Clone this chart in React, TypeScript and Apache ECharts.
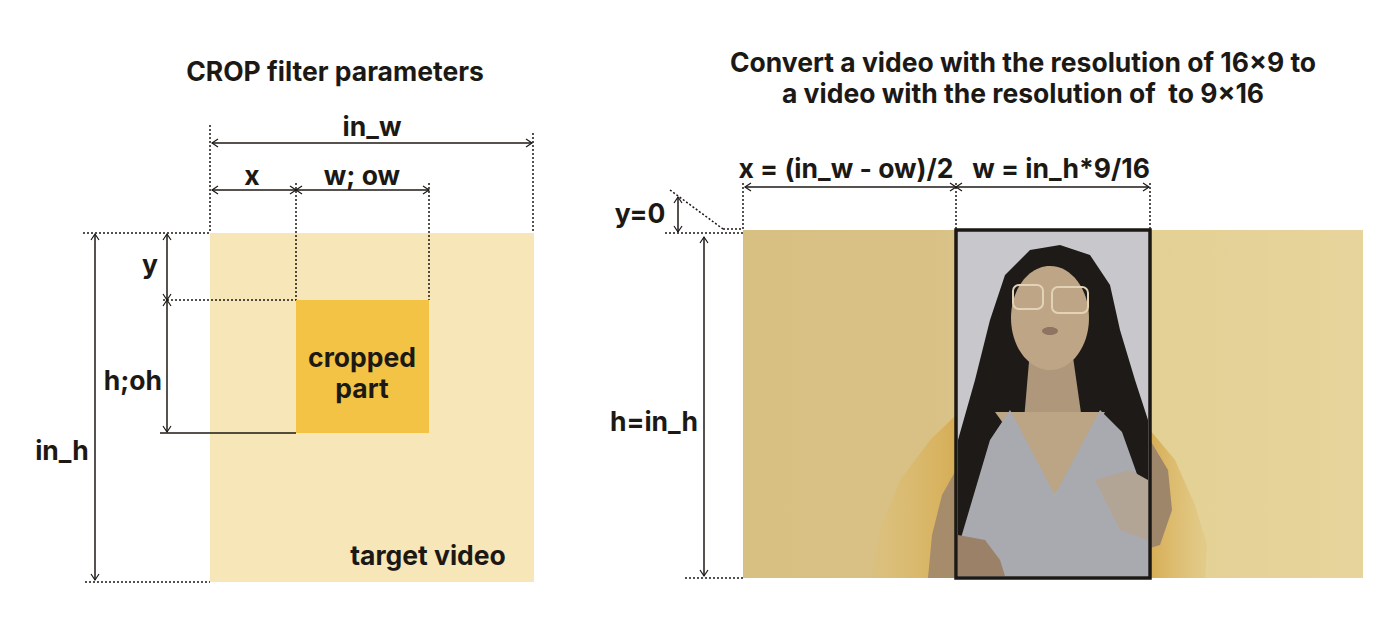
import * as echarts from "echarts";
import { useEffect, useRef } from "react";

// texts of the two diagrams
const leftTitle = "CROP filter parameters";
const leftDims = ["in_w", "x", "w; ow", "y", "h;oh", "in_h"];
const leftBoxLabels = ["cropped", "part", "target video"];
const rightTitle = [
	"Convert a video with the resolution of 16×9 to",
	"a video with the resolution of  to 9×16",
];
const rightDims = ["x = (in_w - ow)/2", "w = in_h*9/16", "y=0", "h=in_h"];

const INK = "#1c1915";
const FONT = "Inter, 'Noto Sans', sans-serif";

const label = (text: string, x: number, y: number, align = "center") => ({
	type: "text",
	x,
	y,
	style: {
		text,
		fill: INK,
		font: `700 26.5px ${FONT}`,
		textAlign: align,
		textVerticalAlign: "middle",
	},
});

const solid = (x1: number, y1: number, x2: number, y2: number) => ({
	type: "line",
	shape: { x1, y1, x2, y2 },
	style: { stroke: INK, lineWidth: 1.5 },
});

const dotted = (x1: number, y1: number, x2: number, y2: number) => ({
	type: "line",
	shape: { x1, y1, x2, y2 },
	style: { stroke: INK, lineWidth: 1.5, lineDash: [2, 2] },
});

const head = (points: number[][]) => ({
	type: "polyline",
	shape: { points },
	style: { stroke: INK, lineWidth: 1.2, fill: null },
});

// arrows with open heads at both ends
const hArrow = (x1: number, x2: number, y: number) => [
	solid(x1, y, x2, y),
	head([[x1 + 6, y - 4], [x1, y], [x1 + 6, y + 4]]),
	head([[x2 - 6, y - 4], [x2, y], [x2 - 6, y + 4]]),
];
const vArrow = (x: number, y1: number, y2: number) => [
	solid(x, y1, x, y2),
	head([[x - 4, y1 + 6], [x, y1], [x + 4, y1 + 6]]),
	head([[x - 4, y2 - 6], [x, y2], [x + 4, y2 - 6]]),
];

const poly = (points: number[][], fill: any) => ({
	type: "polygon",
	shape: { points },
	style: { fill },
});

function leftDiagram() {
	return [
		{ type: "rect", shape: { x: 210, y: 233, width: 324, height: 349 }, style: { fill: "#f7e6b8" } },
		{ type: "rect", shape: { x: 296, y: 300, width: 133, height: 133 }, style: { fill: "#f2c344" } },
		dotted(210, 125, 210, 233),
		dotted(533, 133, 533, 233),
		dotted(296, 183, 296, 300),
		dotted(429, 183, 429, 300),
		dotted(83, 233, 210, 233),
		dotted(163, 300, 296, 300),
		dotted(85, 582, 210, 582),
		solid(160, 433, 296, 433),
		...hArrow(212, 532, 143),
		...hArrow(212, 296, 190),
		...hArrow(296, 429, 190),
		...vArrow(167, 234, 300),
		...vArrow(167, 300, 432),
		...vArrow(95, 234, 580),
		label(leftTitle, 335, 71),
		label(leftDims[0], 372, 126),
		label(leftDims[1], 252, 175),
		label(leftDims[2], 362, 175),
		label(leftDims[3], 150, 264),
		label(leftDims[4], 162, 380, "right"),
		label(leftDims[5], 62, 450),
		label(leftBoxLabels[0], 362, 357),
		label(leftBoxLabels[1], 362, 388),
		label(leftBoxLabels[2], 428, 555),
	];
}

function photo() {
	const glow = (dir: number) =>
		new echarts.graphic.LinearGradient(dir, 0, 1 - dir, 0, [
			{ offset: 0, color: "rgba(222,190,110,0.3)" },
			{ offset: 1, color: "#d6ad55" },
		]);
	return [
		// the woman's arms showing outside the frame
		poly([[956, 415], [930, 440], [900, 480], [880, 530], [872, 578], [956, 578]], glow(0)),
		poly([[956, 470], [942, 495], [932, 535], [928, 578], [956, 578]], "#a68c6b"),
		poly([[1150, 430], [1175, 460], [1195, 505], [1207, 545], [1205, 578], [1150, 578]], glow(1)),
		poly([[1150, 440], [1168, 470], [1172, 510], [1160, 545], [1150, 548]], "#9e866a"),
		// inside of the frame
		{ type: "rect", shape: { x: 956, y: 230, width: 194, height: 348 }, style: { fill: "#c8c7cc" } },
		poly(
			[
				[1030, 250], [1060, 245], [1090, 255], [1110, 285], [1120, 330],
				[1135, 380], [1148, 420], [1148, 500], [1120, 505], [1100, 470],
				[1080, 420], [1020, 420], [1000, 470], [985, 520], [958, 545],
				[958, 440], [975, 380], [990, 320], [1005, 275],
			],
			"#1d1a17",
		),
		poly([[1030, 350], [1072, 350], [1082, 420], [1024, 420]], "#ae977a"),
		poly([[995, 412], [1105, 412], [1055, 495]], "#bba585"),
		{ type: "ellipse", shape: { cx: 1050, cy: 318, rx: 39, ry: 52 }, style: { fill: "#bda585" } },
		{ type: "rect", shape: { x: 1013, y: 285, width: 30, height: 24, r: 6 }, style: { fill: null, stroke: "#e2d3b8", lineWidth: 2 } },
		{ type: "rect", shape: { x: 1052, y: 287, width: 36, height: 26, r: 6 }, style: { fill: null, stroke: "#e2d3b8", lineWidth: 2 } },
		{ type: "ellipse", shape: { cx: 1050, cy: 331, rx: 8, ry: 4 }, style: { fill: "#8f7561" } },
		poly(
			[
				[958, 548], [990, 440], [1010, 410], [1055, 495], [1100, 410],
				[1122, 432], [1148, 505], [1148, 576], [958, 576],
			],
			"#a9a9b0",
		),
		poly([[958, 535], [985, 540], [1000, 560], [1005, 576], [958, 576]], "#9a8168"),
		poly([[1095, 480], [1130, 470], [1148, 480], [1148, 540], [1120, 530]], "#b3a596"),
		{
			type: "rect",
			shape: { x: 956, y: 230, width: 194, height: 348 },
			style: { fill: null, stroke: INK, lineWidth: 3.5 },
		},
	];
}

function rightDiagram() {
	return [
		{
			type: "rect",
			shape: { x: 743, y: 230, width: 620, height: 348 },
			style: {
				fill: new echarts.graphic.LinearGradient(0, 0, 1, 0, [
					{ offset: 0, color: "#d8c083" },
					{ offset: 0.3, color: "#d9c186" },
					{ offset: 0.65, color: "#e3d094" },
					{ offset: 1, color: "#e6d49c" },
				]),
			},
		},
		...photo(),
		dotted(743, 183, 743, 230),
		dotted(956, 183, 956, 230),
		dotted(1150, 183, 1150, 230),
		...hArrow(745, 956, 187),
		...hArrow(956, 1149, 187),
		dotted(670, 190, 723, 229),
		dotted(723, 229, 743, 229),
		dotted(665, 233, 743, 233),
		dotted(685, 578, 743, 578),
		...vArrow(678, 197, 232),
		...vArrow(704, 237, 576),
		label(rightTitle[0], 1023, 62),
		label(rightTitle[1], 1023, 93),
		label(rightDims[0], 846, 168),
		label(rightDims[1], 1061, 168),
		label(rightDims[2], 640, 213),
		label(rightDims[3], 654, 421),
	];
}

export default function App() {
	const chartRef = useRef<HTMLDivElement>(null);

	useEffect(() => {
		if (!chartRef.current) return;
		const chart = echarts.init(chartRef.current, null, { renderer: "svg" });
		chart.setOption({
			animation: false,
			backgroundColor: "#ffffff",
			graphic: { elements: [...leftDiagram(), ...rightDiagram()] },
		});
		return () => chart.dispose();
	}, []);

	return (
		<div
			ref={chartRef}
			style={{ position: "fixed", left: 0, top: 0, width: 1400, height: 620 }}
		/>
	);
}
